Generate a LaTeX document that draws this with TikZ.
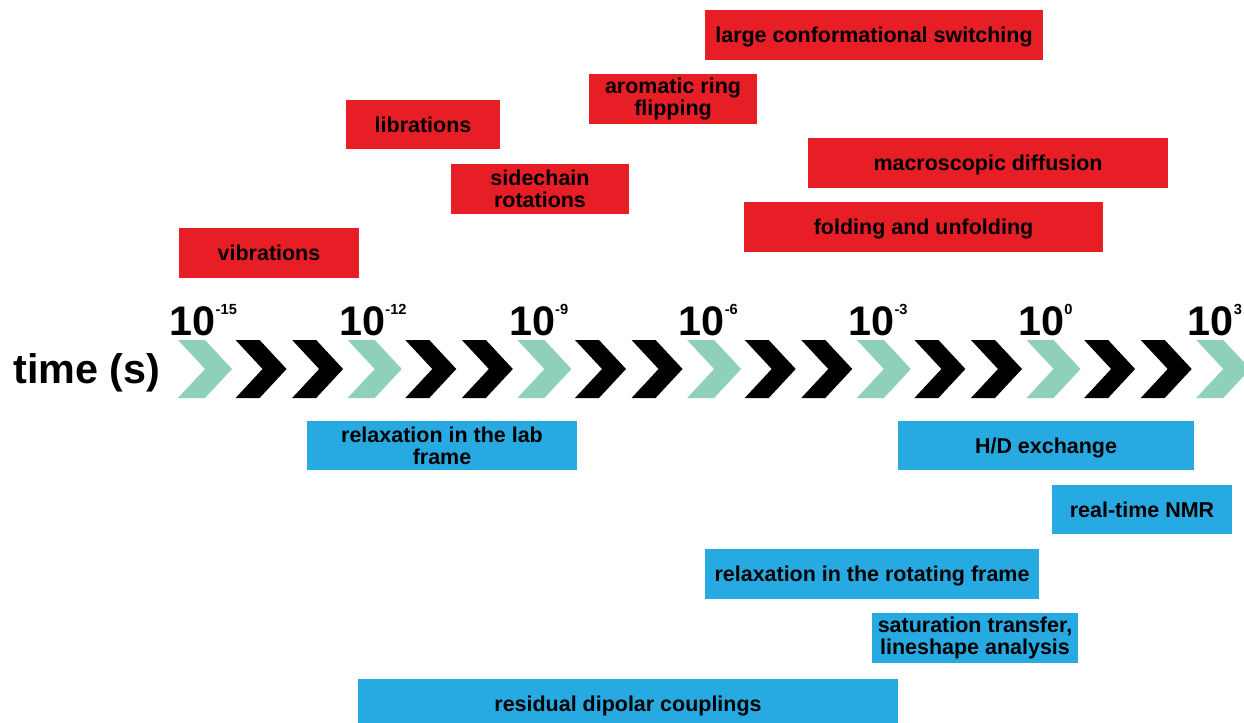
\documentclass[tikz,border=0pt]{standalone}
\usepackage{fontspec}
\setmainfont{Liberation Sans}
\usepackage{tikz}
\usetikzlibrary{positioning}
\definecolor{procred}{RGB}{232, 30, 38}
\definecolor{nmrblue}{RGB}{39, 170, 225}
\definecolor{chevgreen}{RGB}{142, 208, 186}
\newcommand{\boxfont}{\fontsize{16.1}{16.5}\selectfont\bfseries}
\newcommand{\timefont}{\fontsize{31}{31}\selectfont\bfseries}
\newcommand{\supfont}{\fontsize{11}{11}\selectfont\bfseries}

\begin{document}
\begin{tikzpicture}[x=0.75pt, y=-0.75pt,
    process/.style={fill=procred, text=black, font=\boxfont, align=center, inner sep=0pt},
    method/.style={fill=nmrblue, text=black, font=\boxfont, align=center, inner sep=0pt},
    oneline/.style={text height=11.6pt, text depth=0pt},
    boxsize/.style 2 args={minimum width=#1*0.75pt, minimum height=#2*0.75pt}]
    \fill[white] (0,0) rectangle (1244,723);
    \clip (0,0) rectangle (1244,723);

    % Time axis: chevrons, every third one marks a decade step of 10^3
    \foreach \k in {0,...,18} {
        \pgfmathtruncatemacro{\r}{mod(\k,3)}
        \pgfmathsetmacro{\xl}{178+56.57*\k}
        \ifnum\r=0
            \fill[chevgreen] (\xl,340) -- ++(27,0) -- ++(27,29) -- ++(-27,29)
                -- ++(-27,0) -- ++(27,-29) -- cycle;
        \else
            \fill[black] (\xl+1,340) -- ++(24,0) -- ++(27,29) -- ++(-27,29)
                -- ++(-24,0) -- ++(27,-29) -- cycle;
        \fi
    }
    % Decade labels above the green chevrons
    \foreach \e [count=\i from 0] in {-15,-12,-9,-6,-3,0,3} {
        \node[anchor=base west, inner sep=0pt, font=\timefont] (dec\i)
            at (169.5+169.7*\i,335) {10\raisebox{15.5pt}{\supfont\e}};
    }
    \node[anchor=base west, inner sep=0pt, font=\timefont] (timelabel) at (13,383) {time (s)};

    % Motions (above the axis)
    \node[process, oneline, boxsize={338}{50}] (switching) at (874,35) {large conformational switching};
    \node[process, boxsize={168}{50}] (ringflip) at (673,99) {aromatic ring\\flipping};
    \node[process, oneline, boxsize={154}{49}] (librations) at (423,124.5) {librations};
    \node[process, boxsize={178}{50}] (sidechain) at (540,189) {sidechain\\rotations};
    \node[process, oneline, boxsize={180}{50}] (vibrations) at (269,253) {vibrations};
    \node[process, oneline, boxsize={360}{50}] (diffusion) at (988,163) {macroscopic diffusion};
    \node[process, oneline, boxsize={359}{50}] (folding) at (923.5,227) {folding and unfolding};

    % NMR methods (below the axis)
    \node[method, boxsize={270}{49}] (labframe) at (442,445.5) {relaxation in the lab\\frame};
    \node[method, oneline, boxsize={296}{49}] (hdx) at (1046,445.5) {H/D exchange};
    \node[method, oneline, boxsize={180}{49}] (realtime) at (1142,509.5) {real-time NMR};
    \node[method, oneline, boxsize={334}{50}] (rotframe) at (872,574) {relaxation in the rotating frame};
    \node[method, boxsize={206}{50}] (saturation) at (975,638) {saturation transfer,\\lineshape analysis};
    \node[method, oneline, boxsize={540}{50}] (rdc) at (628,704) {residual dipolar couplings};
\end{tikzpicture}
\end{document}
